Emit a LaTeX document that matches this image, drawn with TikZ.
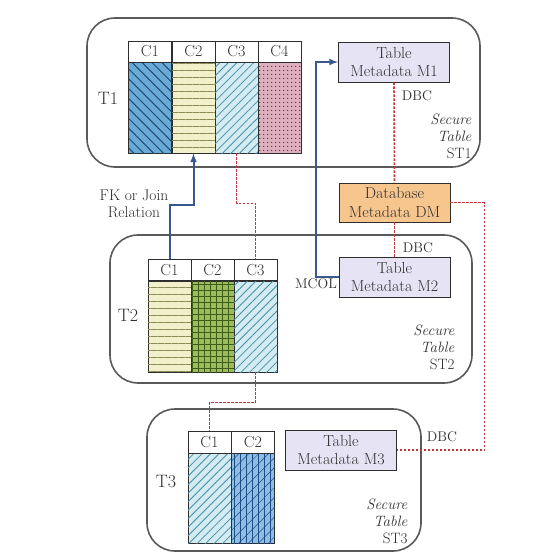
\documentclass[tikz,border=0pt]{standalone}
\usepackage{xcolor}
\usepackage{tikz}
\usetikzlibrary{arrows,patterns.meta}

\definecolor{ink}{HTML}{2E2E2E}
\definecolor{boxgray}{HTML}{5A5A5A}
\definecolor{metafill}{HTML}{E6E4F4}
\definecolor{dmfill}{HTML}{F7C68E}
\definecolor{dbcred}{HTML}{C8343C}
\definecolor{fkblue}{HTML}{3A5890}
\definecolor{c1fill}{HTML}{6AAAD6}
\definecolor{c1line}{HTML}{1F4A70}
\definecolor{yfill}{HTML}{F2EFCB}
\definecolor{yline}{HTML}{8C8A55}
\definecolor{cyfill}{HTML}{D2ECF2}
\definecolor{cyline}{HTML}{4A8CA8}
\definecolor{pkfill}{HTML}{DDB0C0}
\definecolor{pkdot}{HTML}{7A2840}
\definecolor{grfill}{HTML}{9CBB5A}
\definecolor{grline}{HTML}{3E5E18}
\definecolor{bgfill}{HTML}{8EBEE4}
\definecolor{bgline}{HTML}{1F4C88}

\tikzset{
	secure/.style={draw=boxgray,line width=1.6pt,rounded corners=28pt},
	hdr/.style={draw=ink,fill=white,line width=.8pt,minimum width=43pt,minimum height=21pt,inner sep=0pt,text=ink,font=\fontsize{16}{18}\selectfont},
	col/.style={draw=ink,line width=.8pt,minimum width=43pt,minimum height=91pt,inner sep=0pt},
	meta/.style={draw=ink,fill=metafill,line width=.9pt,minimum width=111pt,minimum height=40pt,inner sep=0pt,align=center,text=ink,font=\fontsize{16}{18.5}\selectfont},
	tname/.style={text=ink,font=\fontsize{18}{20}\selectfont},
	small/.style={text=ink,inner sep=1.5pt,font=\fontsize{14}{16}\selectfont},
	sectext/.style={text=ink,align=right,anchor=east,font=\fontsize{15}{17}\selectfont\itshape},
	dbc/.style={draw=dbcred,line width=1.6pt,dash pattern=on 2.4pt off 1.6pt},
	fk/.style={draw=fkblue,line width=2pt,-latex},
	% column fillings
	bluediag/.style={fill=c1fill,postaction={pattern color=c1line,pattern={Lines[angle=-45,distance=7pt,line width=1pt]}}},
	yellowhoriz/.style={fill=yfill,postaction={pattern color=yline,pattern={Lines[angle=0,distance=7pt,line width=1pt]}}},
	cyandiag/.style={fill=cyfill,postaction={pattern color=cyline,pattern={Lines[angle=45,distance=6pt,line width=.8pt]}}},
	pinkdots/.style={fill=pkfill,postaction={pattern color=pkdot,pattern={Dots[radius=.9pt,distance=4pt]}}},
	greengrid/.style={fill=grfill,postaction={pattern color=grline,pattern={Hatch[angle=0,distance=6pt,line width=.8pt]}}},
	bluegrid/.style={fill=bgfill,postaction={pattern color=bgline,pattern={Lines[angle=90,distance=6pt,line width=.8pt]}},postaction={pattern color=bgline,pattern={Lines[angle=45,distance=7pt,line width=.5pt]}}},
}

\begin{document}
\begin{tikzpicture}[x=1pt,y=-1pt]
	\useasboundingbox (0,0) rectangle (534,554);
	% secure tables
	\draw[secure] (87,18) rectangle (480,167);
	\draw[secure] (110,235) rectangle (472,383);
	\draw[secure] (147,409) rectangle (421,551);

	% table T1
	\foreach \i/\x/\s in {1/150/bluediag,2/193.5/yellowhoriz,3/236.5/cyandiag,4/279.5/pinkdots}{
	  \node[col,\s] (t1b\i) at (\x,107.5) {};
	  \node[hdr] (t1h\i) at (\x,51.5) {C\i};
	}
	\node[tname] (t1) at (108,98) {T1};

	% table T2
	\foreach \i/\x/\s in {1/169.5/yellowhoriz,2/212.5/greengrid,3/255.5/cyandiag}{
	  \node[col,\s] (t2b\i) at (\x,326.5) {};
	  \node[hdr] (t2h\i) at (\x,270) {C\i};
	}
	\node[tname] (t2) at (128,315) {T2};

	% table T3
	\foreach \i/\x/\s in {1/209.5/cyandiag,2/253/bluegrid}{
	  \node[col,\s,minimum height=90pt] (t3b\i) at (\x,498) {};
	  \node[hdr,minimum height=22pt] (t3h\i) at (\x,442) {C\i};
	}
	\node[tname] (t3) at (166,482) {T3};

	% metadata
	\node[meta] (m1) at (394,62) {Table\\Metadata M1};
	\node[meta,fill=dmfill,minimum height=39pt] (dm) at (394.5,202.5) {Database\\Metadata DM};
	\node[meta] (m2) at (394.5,277) {Table\\Metadata M2};
	\node[meta] (m3) at (341,450) {Table\\Metadata M3};

	% links
	\draw[fk] (t2h1.north) -- ++(0,-54) -| (t1b2.south);
	\node[text=ink,align=center,font=\fontsize{15.5}{17.5}\selectfont] (fklbl) at (134,204) {FK or Join\\Relation};
	\draw[fk] (m2.west) -- ++(-23,0) |- (m1.west);
	\node[small,anchor=north east] (mcol) at (m2.west) {MCOL};

	\draw[dbc] (m1.south) -- (dm.north);
	\draw[dbc] (dm.south) -- (m2.north);
	\draw[dbc] (dm.east) -- ++(34,0) |- (m3.east);
	\draw[dbc] (t1b3.south) -- ++(0,50) -| (t2h3.north);
	\draw[dbc] (t2b3.south) -- ++(0,30) -| (t3h1.north);
	\node[small] (dbc1) at (417,96) {DBC};
	\node[small] (dbc2) at (418,248) {DBC};
	\node[small] (dbc3) at (442,437) {DBC};

	% secure table labels
	\node[sectext] (st1) at (475,136) {Secure\\Table\\\upshape ST1};
	\node[sectext] (st2) at (458,347) {Secure\\Table\\\upshape ST2};
	\node[sectext] (st3) at (411,521) {Secure\\Table\\\upshape ST3};
\end{tikzpicture}
\end{document}
